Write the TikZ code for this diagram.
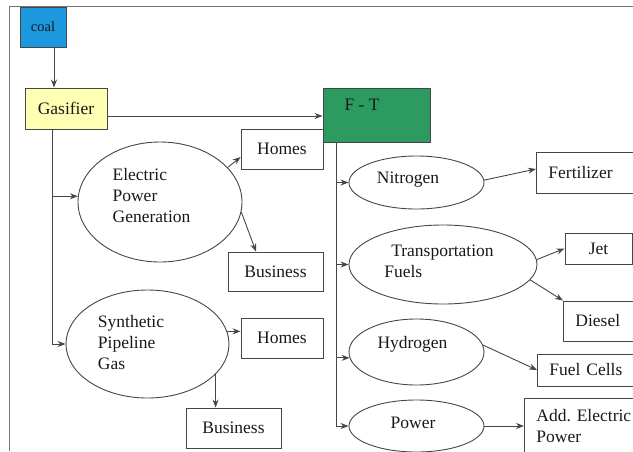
\documentclass[tikz,border=0pt]{standalone}
\usepackage{fontspec}
\setmainfont{Liberation Serif}
\newfontfamily\diagfont{Liberation Serif}
\usetikzlibrary{arrows.meta,shapes.geometric}

\definecolor{coalblue}{RGB}{28,152,222}
\definecolor{gasyellow}{RGB}{255,255,180}
\definecolor{ftgreen}{RGB}{45,155,95}
\definecolor{linegray}{RGB}{70,70,70}

\begin{document}
\begin{tikzpicture}[x=1pt,y=-1pt,
    every node/.style={font=\diagfont\fontsize{17.5}{21}\selectfont, text=black!90},
    box/.style={rectangle, draw=linegray, line width=0.9pt, inner sep=0pt},
    openbox/.style={box, anchor=west, align=left, text width=110pt, inner xsep=12pt},
    blob/.style={ellipse, draw=linegray, line width=0.9pt, inner sep=0pt},
    wire/.style={draw=linegray, line width=0.9pt},
    arr/.style={wire, -{Stealth[length=8pt,width=6pt]}}]

  \useasboundingbox (0,0) rectangle (633,451);
  \clip (0,0) rectangle (633,451);

  % frame
  \draw[wire, draw=black!55] (9,451) -- (9,6) -- (633,6);

  % boxes
  \node[box, fill=coalblue, minimum width=46, minimum height=40,
        font=\diagfont\fontsize{14.5}{17}\selectfont] (coal) at (43,27) {coal};
  \node[box, fill=gasyellow, minimum width=82, minimum height=41] (gasifier) at (66,108.5) {Gasifier};
  \node[box, fill=ftgreen, minimum width=107, minimum height=54,
        label={[shift={(-14.5,-10)}]center:F - T}] (ft) at (376.5,115) {};
  \node[box, minimum width=82, minimum height=40] (homesA) at (282,149) {Homes};
  \node[box, minimum width=95, minimum height=39] (businessA) at (275.5,271.5) {Business};
  \node[box, minimum width=82, minimum height=40] (homesB) at (282,338) {Homes};
  \node[box, minimum width=95, minimum height=40] (businessB) at (233.5,428) {Business};
  \node[box, minimum width=67, minimum height=31] (jet) at (598.5,248.5) {Jet};
  \node[openbox, minimum height=41] (fert) at (536,172.5) {Fertilizer};
  \node[openbox, minimum height=40] (diesel) at (563,321) {Diesel};
  \node[openbox, minimum height=32] (fuelcells) at (537,370) {Fuel Cells};
  \node[openbox, minimum height=56] (addpower) at (524,426) {Add.\ Electric\\Power};

  % ellipses
  \node[blob, minimum width=164, minimum height=120,
        label={[align=left, shift={(-8.5,-6)}]center:Electric\\Power\\Generation}] (elec) at (160,202) {};
  \node[blob, minimum width=163, minimum height=108,
        label={[align=left, shift={(-16.5,-1)}]center:Synthetic\\Pipeline\\Gas}] (synth) at (147.5,344) {};
  \node[blob, minimum width=135, minimum height=53,
        label={[shift={(-8.5,-2.5)}]center:Nitrogen}] (nitro) at (416.5,182.5) {};
  \node[blob, minimum width=188, minimum height=79,
        label={[align=left, shift={(-4,-3)}]center:\hspace*{7pt}Transportation\\Fuels}] (transport) at (443,264.5) {};
  \node[blob, minimum width=135, minimum height=66,
        label={[shift={(-4,-8)}]center:Hydrogen}] (hydro) at (416.5,352) {};
  \node[blob, minimum width=135, minimum height=52,
        label={[shift={(-3.5,-3)}]center:Power}] (power) at (416.5,426) {};

  % gasifier side
  \draw[arr] ([xshift=11pt]coal.south) -- ([xshift=-12pt]gasifier.north);
  \coordinate (gout) at ([yshift=-7.5pt]gasifier.east);
  \draw[arr] (gout) -- (gout -| ft.west);
  \coordinate (gbus) at (52,0);
  \draw[wire] (gasifier.south -| gbus) -- (synth.west -| gbus);
  \draw[arr] (elec.176 -| gbus) -- (elec.176);
  \draw[arr] (synth.west -| gbus) -- (synth.west);
  \draw[arr] (elec.27) -- ([yshift=-8pt]homesA.west);
  \draw[arr] (elec.-7) -- ([xshift=-19.5pt]businessA.north);
  \draw[arr] (synth.9) -- (synth.9 -| homesB.west);
  \draw[arr] (synth.-24) -- (synth.-24 |- businessB.north);

  % F-T side
  \coordinate (fbus) at (336,0);
  \draw[wire] (ft.south -| fbus) -- (power.west -| fbus);
  \draw[arr] (nitro.west -| fbus) -- (nitro.west);
  \draw[arr] (transport.west -| fbus) -- (transport.west);
  \draw[arr] (hydro.185 -| fbus) -- (hydro.185);
  \draw[arr] (power.west -| fbus) -- (power.west);
  \draw[arr] (nitro.2) -- ([yshift=3.5pt]fert.west);
  \draw[arr] (transport.3) -- (jet.west);
  \draw[arr] (transport.-10) -- (diesel.north west);
  \draw[arr] (hydro.6) -- (fuelcells.west);
  \draw[arr] (power.east) -- (addpower.west);

\end{tikzpicture}
\end{document}
